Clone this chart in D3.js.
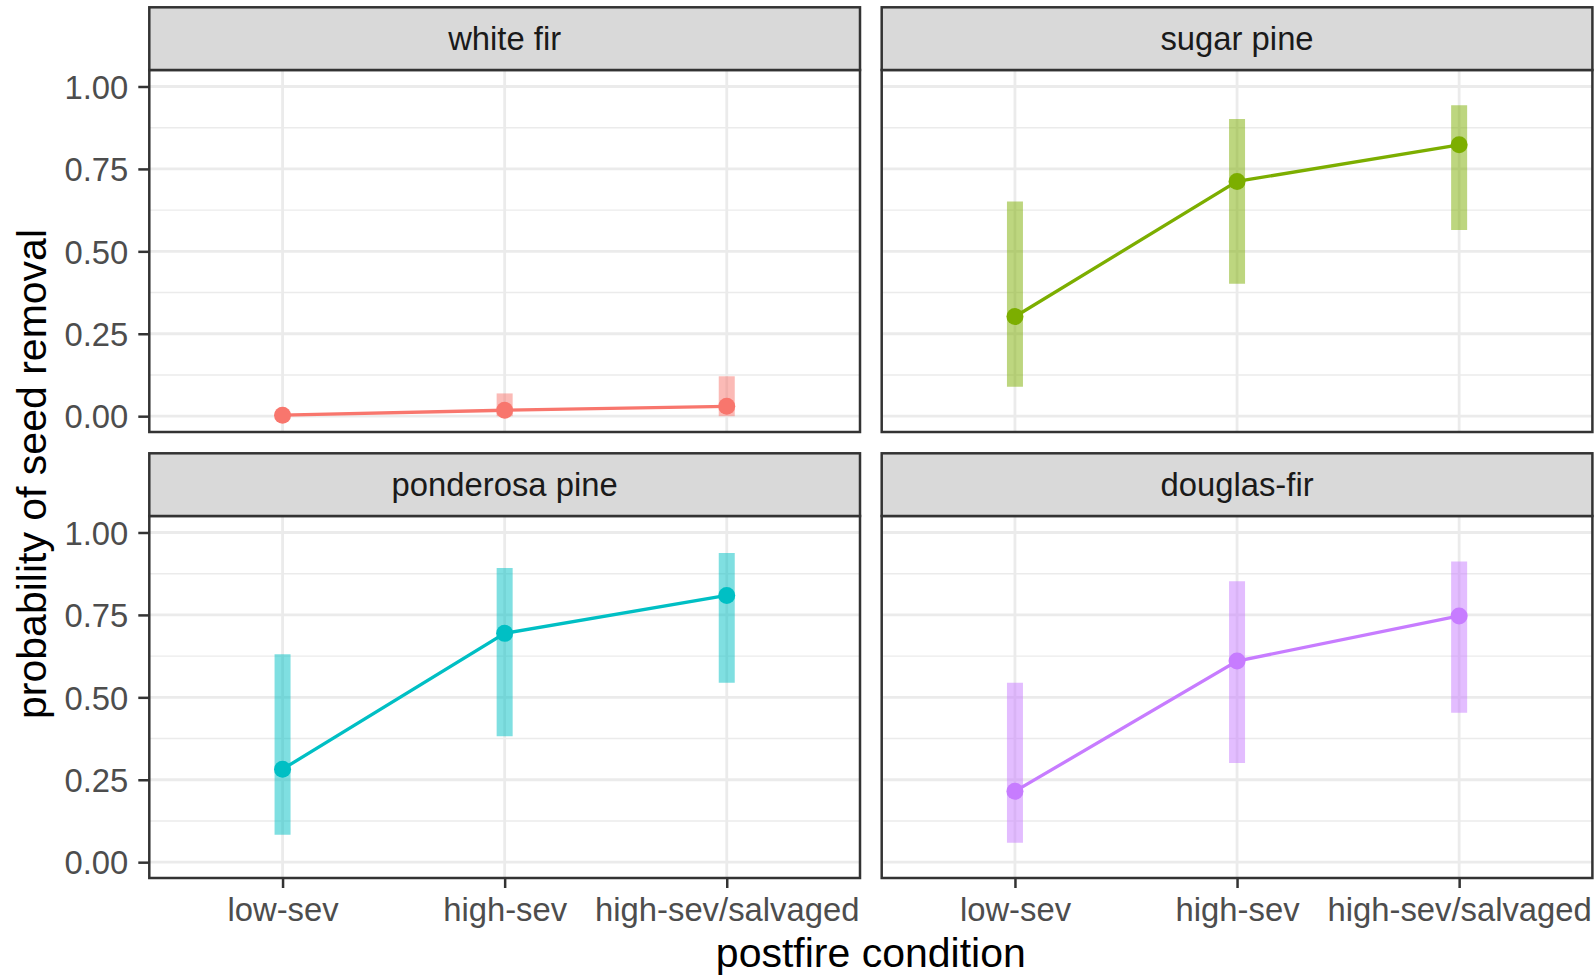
<!DOCTYPE html>
<html>
<head>
<meta charset="utf-8">
<script src="https://cdn.jsdelivr.net/npm/d3@7"></script>
<style>
  body { margin: 0; background: #fff; }
  svg { display: block; font-family: "Liberation Sans", Arial, Helvetica, sans-serif; }
</style>
</head>
<body>
<div id="chart"></div>
<script>
// facets, conditions and model estimates
var species = ["white fir", "sugar pine", "ponderosa pine", "douglas-fir"];
var conditions = ["low-sev", "high-sev", "high-sev/salvaged"];
var colors = ["#F8766D", "#7CAE00", "#00BFC4", "#C77CFF"];

// estimate per species, in condition order
var estimates = [
    [0.003, 0.018, 0.030],
    [0.302, 0.712, 0.823],
    [0.282, 0.694, 0.809],
    [0.215, 0.610, 0.747]
];
// lower / upper interval
var lower = [
    [0.000, 0.000, 0.000],
    [0.089, 0.402, 0.565],
    [0.083, 0.382, 0.544],
    [0.059, 0.301, 0.453]
];
var upper = [
    [0.008, 0.069, 0.121],
    [0.651, 0.901, 0.943],
    [0.631, 0.892, 0.938],
    [0.544, 0.852, 0.912]
];
var yTicks = [0, 0.25, 0.5, 0.75, 1];
var yMinor = [0.125, 0.375, 0.625, 0.875];

var svgWidth = 1595;
var svgHeight = 976;

// panel geometry
var colX = [149.3, 881.7];
var rowY = [70, 516];
var panelW = 710.7;
var panelH = 362;
var stripH = 62.7;

var svg = d3.select("#chart")
    .append("svg")
    .attr("width", svgWidth)
    .attr("height", svgHeight);

var x = d3.scalePoint()
    .domain(conditions)
    .range([0, panelW])
    .padding(0.6);

var y = d3.scaleLinear()
    .domain([-0.048, 1.05])
    .range([panelH, 0]);

var fmt = d3.format(".2f");

species.forEach(function(name, i) {
    var col = i % 2, row = Math.floor(i / 2);
    var g = svg.append("g")
        .attr("transform", `translate(${colX[col]}, ${rowY[row]})`);

    var data = conditions.map(function(c, j) {
        return { cond: c, est: estimates[i][j], lo: lower[i][j], hi: upper[i][j] };
    });

    g.append("rect")
        .attr("width", panelW).attr("height", panelH)
        .attr("fill", "#fff");

    // grid
    g.selectAll(".minor")
        .data(yMinor).enter().append("line")
        .attr("x1", 0).attr("x2", panelW)
        .attr("y1", d => y(d)).attr("y2", d => y(d))
        .attr("stroke", "#EBEBEB").attr("stroke-width", 1.4);

    g.selectAll(".major")
        .data(yTicks).enter().append("line")
        .attr("x1", 0).attr("x2", panelW)
        .attr("y1", d => y(d)).attr("y2", d => y(d))
        .attr("stroke", "#EBEBEB").attr("stroke-width", 2.8);

    g.selectAll(".vmajor")
        .data(conditions).enter().append("line")
        .attr("x1", d => x(d)).attr("x2", d => x(d))
        .attr("y1", 0).attr("y2", panelH)
        .attr("stroke", "#EBEBEB").attr("stroke-width", 2.8);

    // intervals
    g.selectAll(".range")
        .data(data).enter().append("line")
        .attr("x1", d => x(d.cond)).attr("x2", d => x(d.cond))
        .attr("y1", d => y(d.lo)).attr("y2", d => y(d.hi))
        .attr("stroke", colors[i])
        .attr("stroke-opacity", 0.5)
        .attr("stroke-width", 16);

    var line = d3.line()
        .x(d => x(d.cond))
        .y(d => y(d.est));

    g.append("path")
        .datum(data)
        .attr("d", line)
        .attr("fill", "none")
        .attr("stroke", colors[i])
        .attr("stroke-width", 3.3);

    g.selectAll(".pt")
        .data(data).enter().append("circle")
        .attr("cx", d => x(d.cond))
        .attr("cy", d => y(d.est))
        .attr("r", 8.5)
        .attr("fill", colors[i]);

    g.append("rect")
        .attr("width", panelW).attr("height", panelH)
        .attr("fill", "none")
        .attr("stroke", "#333333").attr("stroke-width", 2.5);

    // strip
    g.append("rect")
        .attr("y", -stripH)
        .attr("width", panelW).attr("height", stripH)
        .attr("fill", "#D9D9D9")
        .attr("stroke", "#333333").attr("stroke-width", 2.5);

    g.append("text")
        .attr("x", panelW / 2)
        .attr("y", -stripH / 2)
        .attr("dy", "0.35em")
        .attr("text-anchor", "middle")
        .attr("fill", "#1A1A1A")
        .style("font-size", "32.8px")
        .text(name);

    // axes only on the outer panels
    if (col === 0) {
        var leftAxis = d3.axisLeft(y)
            .tickValues(yTicks)
            .tickFormat(fmt)
            .tickSize(11)
            .tickPadding(10);
        var ay = g.append("g").call(leftAxis);
        ay.select(".domain").remove();
        ay.selectAll("line").attr("stroke", "#333333").attr("stroke-width", 2.5);
        ay.selectAll("text")
            .attr("dy", "0.36em")
            .attr("fill", "#4D4D4D")
            .style("font-size", "32.8px")
            .style("font-family", "'Liberation Sans', Arial, Helvetica, sans-serif");
    }
    if (row === 1) {
        var bottomAxis = d3.axisBottom(x)
            .tickSize(10)
            .tickPadding(9.5);
        var ax = g.append("g")
            .attr("transform", `translate(0, ${panelH})`)
            .call(bottomAxis);
        ax.select(".domain").remove();
        ax.selectAll("line").attr("stroke", "#333333").attr("stroke-width", 2.5);
        ax.selectAll("text")
            .attr("fill", "#4D4D4D")
            .style("font-size", "32.8px")
            .style("font-family", "'Liberation Sans', Arial, Helvetica, sans-serif");
    }
});

// axis titles
svg.append("text")
    .attr("transform", "translate(46, 474) rotate(-90)")
    .attr("text-anchor", "middle")
    .attr("fill", "#000")
    .style("font-size", "41px")
    .text("probability of seed removal");

svg.append("text")
    .attr("x", (colX[0] + colX[1] + panelW) / 2)
    .attr("y", 966.7)
    .attr("text-anchor", "middle")
    .attr("fill", "#000")
    .style("font-size", "41px")
    .text("postfire condition");
</script>
</body>
</html>
